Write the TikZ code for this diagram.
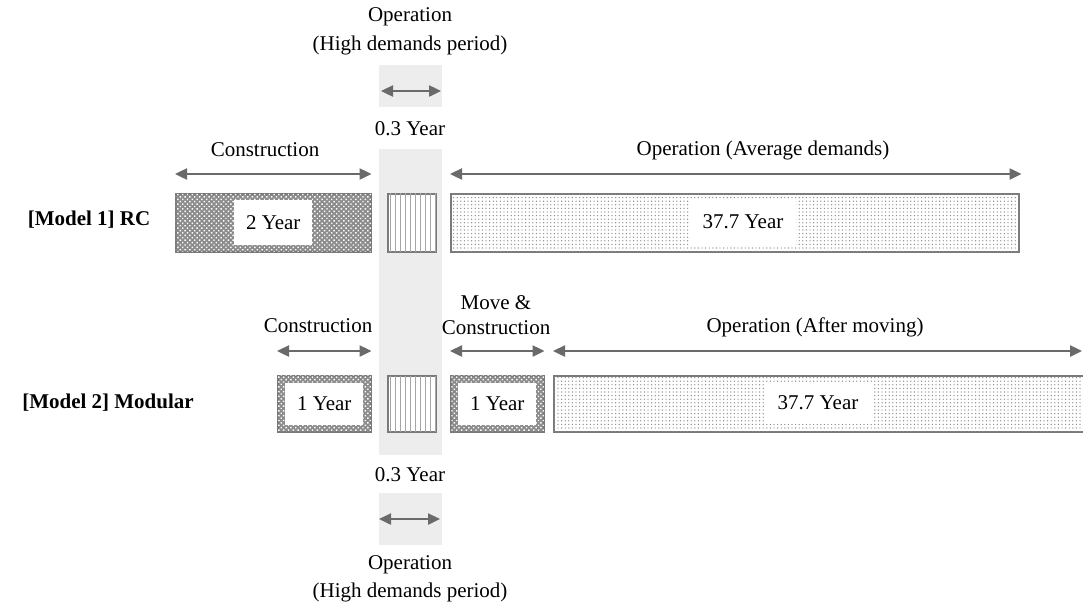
\documentclass[tikz,border=0pt]{standalone}
\usepackage{fontspec}
\setmainfont{Liberation Serif}
\usetikzlibrary{patterns.meta,arrows.meta}
\definecolor{band}{HTML}{EDEDED}
\definecolor{arr}{HTML}{6A6A6A}
\definecolor{edge}{HTML}{7A7A7A}
\definecolor{hatch}{HTML}{8C8C8C}
\tikzset{
  lbl/.style={font=\fontsize{21}{25}\selectfont, inner sep=0pt, align=center},
  mlbl/.style={font=\fontsize{21}{25}\selectfont\bfseries, inner sep=0pt},
  dimarrow/.style={draw=arr, line width=2.4pt, {Triangle[length=12pt,width=11pt]}-{Triangle[length=12pt,width=11pt]}},
  bar/.style={draw=edge, line width=1.5pt, inner sep=0pt, anchor=north west},
  constr/.style={bar, fill=hatch, postaction={pattern={Dots[distance=3.4pt,radius=1.0pt,angle=45]}, pattern color=white}},
  oper/.style={bar, fill=white, postaction={pattern={Dots[distance=3.6pt,radius=0.7pt]}, pattern color=gray!90}},
  stripe/.style={bar, fill=white, postaction={pattern={Lines[angle=90,distance=5pt,line width=0.7pt]}, pattern color=gray!70}},
  whitebox/.style={fill=white, inner sep=0pt, font=\fontsize{21}{25}\selectfont},
}
\begin{document}
\begin{tikzpicture}[x=1pt,y=-1pt]
\useasboundingbox (0,0) rectangle (1083,608);
% gray band
\fill[band] (379,65) rectangle (442,107);
\fill[band] (379,149) rectangle (442,455);
\fill[band] (379,493) rectangle (442,545);

% top labels
\node[lbl] (topop) at (410,17) {Operation};
\node[lbl] (tophd) at (410,45) {(High demands period)};
\coordinate (ta1) at (381,91);
\coordinate (ta2) at (441,91);
\draw[dimarrow] (ta1) -- (ta2);
\node[lbl] (top03) at (410,129) {0.3 Year};

% bottom labels
\node[lbl] (bot03) at (410,475) {0.3 Year};
\coordinate (ba1) at (379,519);
\coordinate (ba2) at (440,519);
\draw[dimarrow] (ba1) -- (ba2);
\node[lbl] (botop) at (410,565) {Operation};
\node[lbl] (bothd) at (410,592) {(High demands period)};

% Model 1
\node[mlbl] (m1) at (89,220) {[Model 1] RC};
\node[constr, minimum width=195pt, minimum height=58pt] (c1) at (175,193) {};
\node[whitebox, minimum width=78pt, minimum height=45pt] (c1t) at (c1.center) {2 Year};
\node[stripe, minimum width=48pt, minimum height=58pt] (s1) at (387,193) {};
\node[oper, minimum width=568pt, minimum height=58pt] (o1) at (450,193) {};
\node[whitebox, minimum width=106pt, minimum height=45pt] (o1t) at (743,222) {37.7 Year};

\draw[dimarrow] ([yshift=19pt]c1.north west) -- ([yshift=19pt]c1.north east);
\node[lbl] (c1l) at (265,150) {Construction};
\draw[dimarrow] ([yshift=19pt]o1.north west) -- ([yshift=19pt,xshift=2pt]o1.north east);
\node[lbl] (o1l) at (763,150) {Operation (Average demands)};

% Model 2
\node[mlbl] (m2) at (108,403) {[Model 2] Modular};
\node[constr, minimum width=93pt, minimum height=56pt] (c2) at (277,375) {};
\node[whitebox, minimum width=78pt, minimum height=42pt] (c2t) at (c2.center) {1 Year};
\node[stripe, minimum width=48pt, minimum height=56pt] (s2) at (387,375) {};
\node[constr, minimum width=93pt, minimum height=56pt] (mc2) at (450,375) {};
\node[whitebox, minimum width=78pt, minimum height=42pt] (mc2t) at (mc2.center) {1 Year};
\node[oper, minimum width=545pt, minimum height=56pt] (o2) at (553,375) {};
\node[whitebox, minimum width=108pt, minimum height=42pt] (o2t) at (818,403) {37.7 Year};

\draw[dimarrow] ([yshift=24pt]c2.north west) -- ([yshift=24pt]c2.north east);
\node[lbl] (c2l) at (318,326) {Construction};
\draw[dimarrow] ([yshift=24pt]mc2.north west) -- ([yshift=24pt]mc2.north east);
\node[lbl] (mc2l) at (496,315) {Move \&\\Construction};
\coordinate (o2end) at (1082,351);
\draw[dimarrow] ([yshift=24pt]o2.north west) -- (o2end);
\node[lbl] (o2l) at (815,327) {Operation (After moving)};
\end{tikzpicture}
\end{document}
